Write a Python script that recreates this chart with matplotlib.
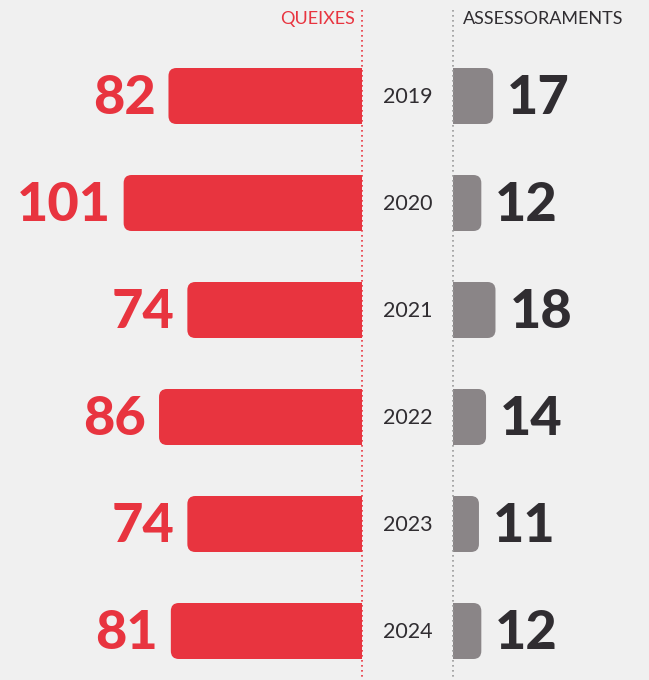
import matplotlib
matplotlib.use("Agg")
import matplotlib.pyplot as plt
from matplotlib.patches import FancyBboxPatch

years = ["2019", "2020", "2021", "2022", "2023", "2024"]
queixes = [82, 101, 74, 86, 74, 81]
assessoraments = [17, 12, 18, 14, 11, 12]

RED = "#E8343F"
GRAY = "#8A8587"
DARK = "#302D31"
BG = "#F0F0F0"

W, H = 649, 680
fig = plt.figure(figsize=(W / 100, H / 100), dpi=100, facecolor=BG)
ax = fig.add_axes([0, 0, 1, 1])
ax.set_facecolor(BG)

pxu = 2.36          # pixels per data unit (x)
x0_px = 362         # red baseline in pixels
gap = (453 - 362) / pxu   # gray baseline in data units
row_px = 107
y0_px = 96
ax.set_xlim(-x0_px / pxu, (W - x0_px) / pxu)
ax.set_ylim((H - y0_px) / row_px, -y0_px / row_px)
ax.axis("off")

bh = 56 / row_px
rx = 8 / pxu
ry = 8 / row_px
aspect = ry / rx

for i, (y, q, a) in enumerate(zip(years, queixes, assessoraments)):
    ax.add_patch(FancyBboxPatch((-q, i - bh / 2), q, bh,
                                boxstyle=f"round,pad=0,rounding_size={rx}",
                                mutation_aspect=aspect, fc=RED, ec="none", zorder=2))
    ax.barh(i, -q / 2, height=bh, left=0, color=RED, zorder=2)
    ax.add_patch(FancyBboxPatch((gap, i - bh / 2), a, bh,
                                boxstyle=f"round,pad=0,rounding_size={rx}",
                                mutation_aspect=aspect, fc=GRAY, ec="none", zorder=2))
    ax.barh(i, a / 2, height=bh, left=gap, color=GRAY, zorder=2)
    ax.text(-q - 13 / pxu, i + 0.02, str(q), ha="right", va="center",
            fontsize=39, fontweight="black", family="Lato", color=RED, zorder=3)
    ax.text(gap + a + 14 / pxu, i + 0.02, str(a), ha="left", va="center",
            fontsize=39, fontweight="black", family="Lato", color=DARK, zorder=3)
    ax.text(gap / 2, i + 0.01, y, ha="center", va="center",
            fontsize=15.5, fontweight="normal", family="Lato", color=DARK, zorder=3)

ytop = -(y0_px - 10) / row_px
ybot = (H - y0_px) / row_px
ax.plot([0, 0], [ytop, ybot], color=RED, lw=1.2, ls=(0, (1, 2)), zorder=4)
ax.plot([gap, gap], [ytop, ybot], color="#999999", lw=1.2, ls=(0, (1, 2)), zorder=4)

yh = -(y0_px - 19) / row_px
ax.text(-7 / pxu, yh, "QUEIXES", ha="right", va="center", fontsize=13,
        fontweight="normal", family="Lato", color=RED)
ax.text(gap + 10 / pxu, yh, "ASSESSORAMENTS", ha="left", va="center", fontsize=13,
        fontweight="normal", family="Lato", color=DARK)

fig.savefig("out.png", dpi=100, facecolor=BG)
